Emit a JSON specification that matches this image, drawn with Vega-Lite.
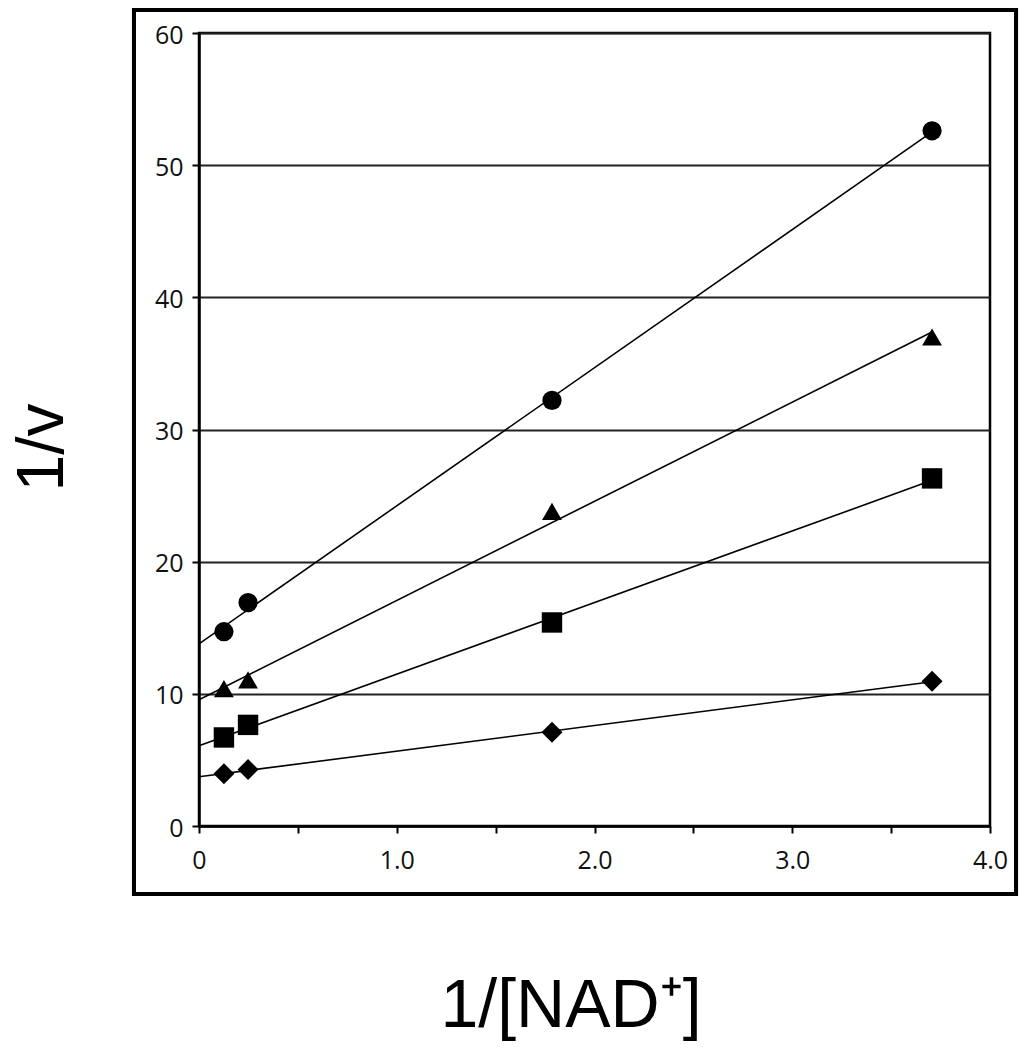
{
  "$schema": "https://vega.github.io/schema/vega-lite/v6.json",
  "width": 791,
  "height": 793,
  "autosize": {"type": "none"},
  "padding": {"left": 199, "top": 33, "right": 42, "bottom": 224},
  "background": "white",
  "config": {
    "view": {"stroke": "black", "strokeWidth": 2.5},
    "font": "Open Sans"
  },
  "data": {
    "values": [
      {"x": 0.126, "y": 14.7, "series": "A"},
      {"x": 0.248, "y": 16.9, "series": "A"},
      {"x": 1.785, "y": 32.2, "series": "A"},
      {"x": 3.707, "y": 52.6, "series": "A"},
      {"x": 0.126, "y": 10.4, "series": "B"},
      {"x": 0.248, "y": 11.05, "series": "B"},
      {"x": 1.785, "y": 23.8, "series": "B"},
      {"x": 3.707, "y": 37.0, "series": "B"},
      {"x": 0.126, "y": 6.7, "series": "C"},
      {"x": 0.248, "y": 7.65, "series": "C"},
      {"x": 1.785, "y": 15.4, "series": "C"},
      {"x": 3.707, "y": 26.3, "series": "C"},
      {"x": 0.126, "y": 3.95, "series": "D"},
      {"x": 0.248, "y": 4.27, "series": "D"},
      {"x": 1.785, "y": 7.1, "series": "D"},
      {"x": 3.707, "y": 10.95, "series": "D"}
    ]
  },
  "layer": [
    {
      "mark": {"type": "rect", "fill": null, "stroke": "black", "strokeWidth": 4, "clip": false},
      "encoding": {
        "x": {"datum": -0.3287, "type": "quantitative", "scale": {"domain": [0, 4], "nice": false, "zero": false}},
        "x2": {"datum": 4.1315},
        "y": {"datum": 61.74, "type": "quantitative", "scale": {"domain": [0, 60], "nice": false, "zero": false}},
        "y2": {"datum": -5.145}
      }
    },
    {
      "transform": [
        {"regression": "y", "on": "x", "groupby": ["series"], "extent": [0, 3.707]}
      ],
      "mark": {"type": "line", "color": "black", "strokeWidth": 1.6},
      "encoding": {
        "x": {"field": "x", "type": "quantitative"},
        "y": {"field": "y", "type": "quantitative"},
        "detail": {"field": "series"}
      }
    },
    {
      "mark": {"type": "point", "filled": true, "color": "black", "opacity": 1},
      "encoding": {
        "x": {
          "field": "x", "type": "quantitative",
          "scale": {"domain": [0, 4], "nice": false, "zero": false},
          "axis": {
            "values": [0, 0.5, 1, 1.5, 2, 2.5, 3, 3.5, 4],
            "labelExpr": "datum.value == 0 ? '0' : (datum.value % 1 == 0 ? format(datum.value, '.1f') : '')",
            "labelFlush": false,
            "grid": false,
            "domainColor": "black", "domainWidth": 2.5,
            "tickColor": "black", "tickWidth": 2, "tickSize": 7,
            "labelFont": "Open Sans", "labelFontSize": 25, "labelColor": "#111",
            "labelPadding": 35, "labelBaseline": "alphabetic",
            "title": "1/[NAD⁺]",
            "titleFont": "Liberation Sans", "titleFontSize": 68, "titleFontWeight": "normal", "titleColor": "black",
            "titleAlign": "left", "titleBaseline": "alphabetic", "titleX": 241, "titleY": 200
          }
        },
        "y": {
          "field": "y", "type": "quantitative",
          "scale": {"domain": [0, 60], "nice": false, "zero": false},
          "axis": {
            "values": [0, 10, 20, 30, 40, 50, 60],
            "labelFlush": false,
            "grid": true, "gridColor": "#222", "gridWidth": 2, "gridOpacity": 1,
            "domainColor": "black", "domainWidth": 2.5,
            "tickColor": "black", "tickWidth": 2, "tickSize": 7,
            "labelFont": "Open Sans", "labelFontSize": 25, "labelColor": "#111",
            "labelPadding": 9, "labelOffset": 2,
            "title": "1/v",
            "titleFont": "Liberation Sans", "titleFontSize": 66, "titleFontWeight": "normal", "titleColor": "black",
            "titleAngle": -90, "titleAlign": "center", "titleBaseline": "alphabetic", "titleX": -137, "titleY": 414
          }
        },
        "shape": {
          "field": "series", "type": "nominal",
          "scale": {"domain": ["A", "B", "C", "D"], "range": ["circle", "triangle-up", "square", "diamond"]},
          "legend": null
        },
        "size": {
          "field": "series", "type": "ordinal",
          "scale": {"domain": ["A", "B", "C", "D"], "range": [370, 440, 390, 340]},
          "legend": null
        }
      }
    }
  ]
}
